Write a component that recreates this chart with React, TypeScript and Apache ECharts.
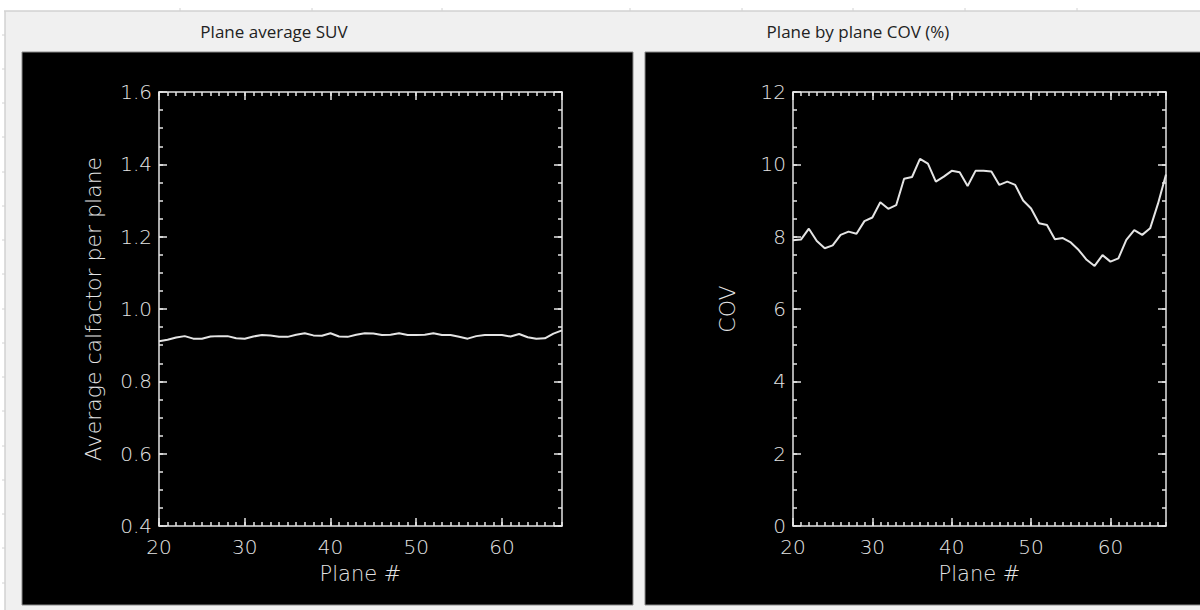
import React, { useEffect, useRef } from "react";
import * as echarts from "echarts";

const planes = [20, 21, 22, 23, 24, 25, 26, 27, 28, 29, 30, 31, 32, 33, 34, 35, 36, 37, 38, 39, 40, 41, 42, 43, 44, 45, 46, 47, 48, 49, 50, 51, 52, 53, 54, 55, 56, 57, 58, 59, 60, 61, 62, 63, 64, 65, 66, 67];

const avgSuv = [0.911, 0.915, 0.921, 0.925, 0.918, 0.918, 0.924, 0.925, 0.925, 0.919, 0.918, 0.924, 0.928, 0.927, 0.923, 0.923, 0.929, 0.933, 0.927, 0.926, 0.933, 0.924, 0.923, 0.929, 0.933, 0.932, 0.928, 0.929, 0.933, 0.928, 0.928, 0.929, 0.933, 0.928, 0.928, 0.923, 0.918, 0.925, 0.928, 0.928, 0.928, 0.924, 0.931, 0.922, 0.918, 0.919, 0.932, 0.941];

const cov = [7.9, 7.92, 8.22, 7.88, 7.68, 7.76, 8.05, 8.14, 8.08, 8.43, 8.53, 8.95, 8.77, 8.87, 9.6, 9.65, 10.15, 10.02, 9.52, 9.66, 9.82, 9.78, 9.4, 9.82, 9.82, 9.8, 9.43, 9.52, 9.43, 9.0, 8.78, 8.37, 8.32, 7.93, 7.96, 7.84, 7.63, 7.36, 7.19, 7.49, 7.31, 7.4, 7.91, 8.18, 8.05, 8.23, 8.92, 9.72];

const titles = ["Plane average SUV", "Plane by plane COV (%)"];
const xName = "Plane #";
const yNames = ["Average calfactor per plane", "COV"];

const FG = "#e4e4e4";
const FONT = "DejaVu Sans";
const FS = 20;

function xAxes(g: number) {
  const base = { gridIndex: g, type: "value", min: 20, max: 67, splitLine: { show: false } };
  const line = { show: true, onZero: false, lineStyle: { color: FG, width: 1.5 } };
  return [
    {
      ...base, position: "bottom", interval: 10, axisLine: line,
      axisTick: { show: true, inside: true, length: 8, lineStyle: { color: FG, width: 1.5 } },
      axisLabel: { show: true, color: FG, fontSize: FS, fontFamily: FONT, fontWeight: 200, margin: 11, showMaxLabel: false },
      name: xName, nameLocation: "middle", nameGap: 37,
      nameTextStyle: { color: FG, fontSize: 21, fontFamily: FONT, fontWeight: 200 },
    },
    {
      ...base, position: "bottom", interval: 1, axisLine: { show: false, onZero: false },
      axisTick: { show: true, inside: true, length: 4, lineStyle: { color: FG, width: 1.5 } },
      axisLabel: { show: false },
    },
    {
      ...base, position: "top", interval: 10, axisLine: line,
      axisTick: { show: true, inside: true, length: 8, lineStyle: { color: FG, width: 1.5 } },
      axisLabel: { show: false },
    },
    {
      ...base, position: "top", interval: 1, axisLine: { show: false, onZero: false },
      axisTick: { show: true, inside: true, length: 4, lineStyle: { color: FG, width: 1.5 } },
      axisLabel: { show: false },
    },
  ];
}

function yAxes(g: number, min: number, max: number, major: number, minor: number, digits: number, name: string, gap: number) {
  const base = { gridIndex: g, type: "value", min, max, splitLine: { show: false } };
  const line = { show: true, onZero: false, lineStyle: { color: FG, width: 1.5 } };
  return [
    {
      ...base, position: "left", interval: major, axisLine: line,
      axisTick: { show: true, inside: true, length: 8, lineStyle: { color: FG, width: 1.5 } },
      axisLabel: { show: true, color: FG, fontSize: FS, fontFamily: FONT, fontWeight: 200, margin: 7, formatter: (v: number) => v.toFixed(digits) },
      name, nameLocation: "middle", nameGap: gap, nameRotate: 90,
      nameTextStyle: { color: FG, fontSize: 22, fontFamily: FONT, fontWeight: 200 },
    },
    {
      ...base, position: "left", interval: minor, axisLine: { show: false, onZero: false },
      axisTick: { show: true, inside: true, length: 4, lineStyle: { color: FG, width: 1.5 } },
      axisLabel: { show: false },
    },
    {
      ...base, position: "right", interval: major, axisLine: line,
      axisTick: { show: true, inside: true, length: 8, lineStyle: { color: FG, width: 1.5 } },
      axisLabel: { show: false },
    },
    {
      ...base, position: "right", interval: minor, axisLine: { show: false, onZero: false },
      axisTick: { show: true, inside: true, length: 4, lineStyle: { color: FG, width: 1.5 } },
      axisLabel: { show: false },
    },
  ];
}

export default function App() {
  const ref = useRef<HTMLDivElement>(null);
  useEffect(() => {
    document.body.style.margin = "0";
    const chart = echarts.init(ref.current!, null, { renderer: "svg" });
    const topTicks = [180, 312, 442, 630, 742, 853, 965, 1077];
    const sideTicks = [35, 69, 103, 137, 172, 206, 240, 274, 309, 343, 377, 411, 446, 480, 514, 548, 583];
    const graphic: any[] = [
      { type: "rect", z: -20, shape: { x: 0, y: 0, width: 1200, height: 610 }, style: { fill: "#ffffff" } },
      { type: "rect", z: -19, shape: { x: 5, y: 11, width: 1195, height: 599 }, style: { fill: "#f0f0f0" } },
      { type: "line", z: -18, shape: { x1: 4, y1: 11, x2: 1200, y2: 11 }, style: { stroke: "#d2d2d2", lineWidth: 1.5 } },
      { type: "line", z: -18, shape: { x1: 5, y1: 11, x2: 5, y2: 610 }, style: { stroke: "#d2d2d2", lineWidth: 1.5 } },
      ...topTicks.map((x) => ({ type: "line", z: -18, shape: { x1: x, y1: 8, x2: x, y2: 11 }, style: { stroke: "#d2d2d2", lineWidth: 1 } })),
      ...sideTicks.map((y) => ({ type: "line", z: -18, shape: { x1: 2, y1: y, x2: 5, y2: y }, style: { stroke: "#d2d2d2", lineWidth: 1 } })),
      { type: "rect", z: -17, shape: { x: 22, y: 52, width: 611, height: 553 }, style: { fill: "#000000", stroke: "#8a8a8a", lineWidth: 1 } },
      { type: "rect", z: -17, shape: { x: 645, y: 52, width: 560, height: 553 }, style: { fill: "#000000", stroke: "#8a8a8a", lineWidth: 1 } },
      { type: "text", z: -16, x: 274, y: 31, style: { text: titles[0], fill: "#222222", fontSize: 17, fontFamily: "Open Sans", align: "center", verticalAlign: "middle" } },
      { type: "text", z: -16, x: 858, y: 31, style: { text: titles[1], fill: "#222222", fontSize: 17, fontFamily: "Open Sans", align: "center", verticalAlign: "middle" } },
    ];
    chart.setOption({
      animation: false,
      backgroundColor: "transparent",
      graphic,
      grid: [
        { left: 159, top: 92, width: 403, height: 434, containLabel: false },
        { left: 793, top: 92, width: 373, height: 434, containLabel: false },
      ],
      xAxis: [...xAxes(0), ...xAxes(1)],
      yAxis: [
        ...yAxes(0, 0.4, 1.6, 0.2, 0.05, 1, yNames[0], 55),
        ...yAxes(1, 0, 12, 2, 0.5, 0, yNames[1], 55),
      ],
      series: [
        {
          type: "line", xAxisIndex: 0, yAxisIndex: 0, showSymbol: false, symbol: "none",
          data: planes.map((p, i) => [p, avgSuv[i]]),
          lineStyle: { color: FG, width: 2 },
        },
        {
          type: "line", xAxisIndex: 4, yAxisIndex: 4, showSymbol: false, symbol: "none",
          data: planes.map((p, i) => [p, cov[i]]),
          lineStyle: { color: FG, width: 2 },
        },
      ],
    });
    return () => chart.dispose();
  }, []);
  return <div ref={ref} style={{ width: 1200, height: 610 }} />;
}
